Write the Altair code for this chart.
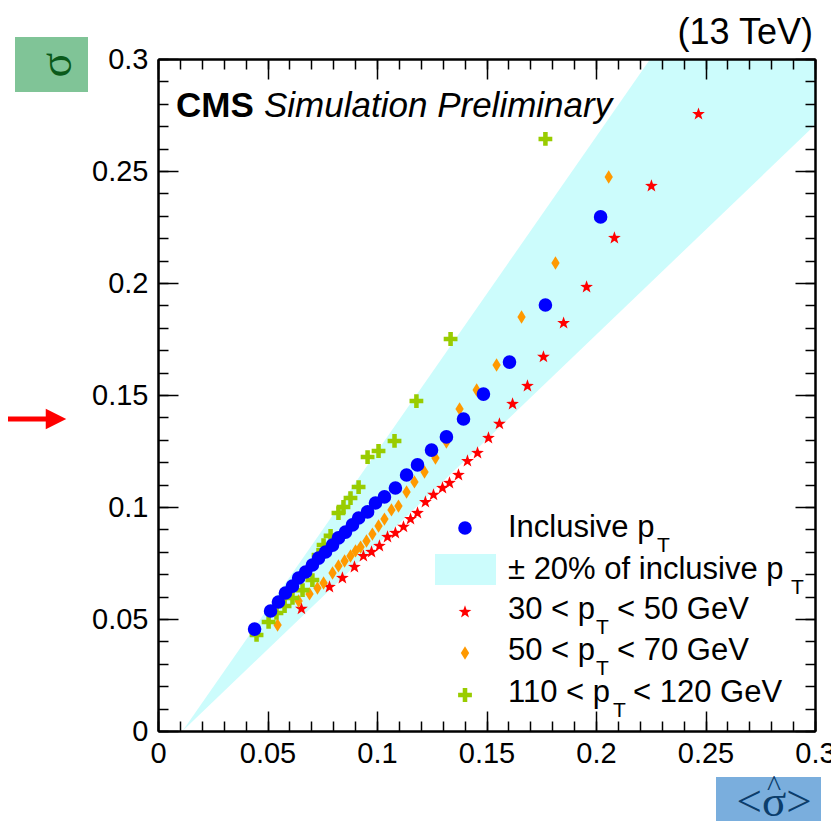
import math
import altair as alt
import pandas as pd

# ---------------- data ----------------
inc_x = [0.0441, 0.0514, 0.0550, 0.0582, 0.0614, 0.0642, 0.0674, 0.0705, 0.0733, 0.0765,
         0.0797, 0.0824, 0.0856, 0.0888, 0.0916, 0.0957, 0.0993, 0.1034, 0.1084, 0.1135,
         0.1185, 0.1249, 0.1317, 0.1395, 0.1486, 0.1605, 0.1769, 0.2021]
inc_y = [0.0455, 0.0536, 0.0576, 0.0616, 0.0647, 0.0683, 0.0710, 0.0741, 0.0772, 0.0799,
         0.0830, 0.0862, 0.0888, 0.0920, 0.0951, 0.0978, 0.1018, 0.1045, 0.1085, 0.1143,
         0.1188, 0.1254, 0.1313, 0.1393, 0.1504, 0.1647, 0.1902, 0.2295]

pt30_x = [0.0655, 0.0783, 0.0842, 0.0897, 0.0938, 0.0975, 0.1011, 0.1048, 0.1084, 0.1121,
          0.1153, 0.1185, 0.1221, 0.1258, 0.1299, 0.1331, 0.1372, 0.1413, 0.1459, 0.1509,
          0.1559, 0.1619, 0.1687, 0.1760, 0.1852, 0.1957, 0.2084, 0.2253, 0.2468]
pt30_y = [0.0545, 0.0643, 0.0683, 0.0732, 0.0781, 0.0799, 0.0826, 0.0866, 0.0884, 0.0911,
          0.0946, 0.0973, 0.1022, 0.1054, 0.1085, 0.1107, 0.1143, 0.1205, 0.1241, 0.1308,
          0.1371, 0.1460, 0.1540, 0.1670, 0.1821, 0.1982, 0.2201, 0.2433, 0.2754]

pt50_x = [0.0546, 0.0642, 0.0692, 0.0728, 0.0756, 0.0797, 0.0824, 0.0852, 0.0879, 0.0902,
          0.0925, 0.0952, 0.0979, 0.1007, 0.1034, 0.1066, 0.1098, 0.1135, 0.1171, 0.1217,
          0.1267, 0.1317, 0.1377, 0.1455, 0.1546, 0.1660, 0.1815, 0.2058]
pt50_y = [0.0473, 0.0580, 0.0612, 0.0638, 0.0661, 0.0705, 0.0737, 0.0759, 0.0781, 0.0804,
          0.0821, 0.0848, 0.0879, 0.0915, 0.0946, 0.0987, 0.1004, 0.1067, 0.1112, 0.1156,
          0.1219, 0.1290, 0.1438, 0.1522, 0.1634, 0.1848, 0.2089, 0.2473]

pt110_x = [0.0450, 0.0505, 0.0541, 0.0578, 0.0614, 0.0660, 0.0705, 0.0733, 0.0756, 0.0788,
           0.0824, 0.0847, 0.0879, 0.0916, 0.0957, 0.1007, 0.1080, 0.1180, 0.1336, 0.1769]
pt110_y = [0.0429, 0.0487, 0.0527, 0.0558, 0.0594, 0.0629, 0.0674, 0.0786, 0.0830, 0.0871,
           0.0973, 0.1000, 0.1040, 0.1089, 0.1223, 0.1250, 0.1295, 0.1473, 0.1750, 0.2643]

# +-20% band around the inclusive trend
band_x = [0.0112, 0.3]
band_lo = [0.0, 0.2705]
band_hi = [0.0, 0.4057]

major_ticks = [0, 0.05, 0.1, 0.15, 0.2, 0.25, 0.3]
minor_ticks = [round(i * 0.01, 2) for i in range(31)]

# ---------------- styling ----------------
FONT = "Liberation Sans, Arial, Helvetica, sans-serif"
SERIF = "Liberation Serif, Times New Roman, serif"
CYAN = "#ccfcfc"
W, H = 657, 672

xs = alt.Scale(domain=[0, 0.3], nice=False, zero=False)
ys = alt.Scale(domain=[0, 0.3], nice=False, zero=False)

one = pd.DataFrame({"k": [0]})


def star_path():
    pts = []
    for k in range(10):
        a = math.radians(-90 + 36 * k)
        r = 1.0 if k % 2 == 0 else 0.40
        pts.append(f"{r * math.cos(a):.3f},{r * math.sin(a):.3f}")
    return "M" + "L".join(pts) + "Z"


STAR = star_path()
DIAMOND = "M0,-1L0.62,0L0,1L-0.62,0Z"
CROSS = ("M-0.33,-1L0.33,-1L0.33,-0.33L1,-0.33L1,0.33L0.33,0.33L0.33,1L-0.33,1"
         "L-0.33,0.33L-1,0.33L-1,-0.33L-0.33,-0.33Z")

band_df = pd.DataFrame({"x": band_x, "lo": band_lo, "hi": band_hi})

# band layer carries the label axes
band = alt.Chart(band_df).mark_area(color=CYAN, opacity=1, clip=True).encode(
    x=alt.X("x:Q", scale=xs, title=None,
            axis=alt.Axis(orient="bottom", values=major_ticks, format="~g", ticks=False,
                          tickSize=0, domain=False, grid=False, labelFont=FONT,
                          labelFontSize=29, labelColor="black", labelPadding=8,
                          labelFlush=False, labelOverlap=False)),
    y=alt.Y("lo:Q", scale=ys, title=None,
            axis=alt.Axis(orient="left", values=major_ticks, format="~g", ticks=False,
                          tickSize=0, domain=False, grid=False, labelFont=FONT,
                          labelFontSize=29, labelColor="black", labelPadding=10,
                          labelFlush=False, labelOverlap=False)),
    y2="hi:Q",
)


def tick_layer(xorient, yorient, values, size):
    common = dict(values=values, tickSize=size, labels=False, domain=True,
                  domainColor="black", domainWidth=2, tickColor="black", tickWidth=1.5,
                  grid=False, zindex=1)
    return alt.Chart(band_df).mark_point(opacity=0).encode(
        x=alt.X("x:Q", scale=xs, title=None,
                axis=alt.Axis(orient=xorient, offset=-H, **common)),
        y=alt.Y("lo:Q", scale=ys, title=None,
                axis=alt.Axis(orient=yorient, offset=-W, **common)),
    )


ticks = [
    tick_layer("top", "right", major_ticks, 20),
    tick_layer("top", "right", minor_ticks, 10),
    tick_layer("bottom", "left", major_ticks, 20),
    tick_layer("bottom", "left", minor_ticks, 10),
]


def series(xv, yv, shape, size, color):
    df = pd.DataFrame({"x": xv, "y": yv})
    return alt.Chart(df).mark_point(shape=shape, size=size, filled=True, opacity=1,
                                    color=color, strokeWidth=0).encode(
        x=alt.X("x:Q", scale=xs, axis=None),
        y=alt.Y("y:Q", scale=ys, axis=None),
    )


s30 = series(pt30_x, pt30_y, STAR, 180, "#ff0000")
s50 = series(pt50_x, pt50_y, DIAMOND, 180, "#ff9900")
s110 = series(pt110_x, pt110_y, CROSS, 190, "#99cc00")
sinc = series(inc_x, inc_y, "circle", 185, "#0000ff")


def text(t, x, y, size, **kw):
    return alt.Chart(one).mark_text(text=t, align=kw.pop("align", "left"),
                                    baseline=kw.pop("baseline", "alphabetic"),
                                    fontSize=size, font=kw.pop("font", FONT),
                                    color=kw.pop("color", "black"), **kw).encode(
        x=alt.value(x), y=alt.value(y))


def sym(shape, size, color, x, y):
    return alt.Chart(one).mark_point(shape=shape, size=size, filled=True, opacity=1,
                                     color=color, strokeWidth=0).encode(
        x=alt.value(x), y=alt.value(y))


LS = 31
SUB = 21
legend = [
    sym("circle", 185, "#0000ff", 307, 469),
    text("Inclusive p", 350, 478, LS),
    text("T", 499, 493, SUB),
    alt.Chart(one).mark_rect(color=CYAN).encode(
        x=alt.value(277), x2=alt.value(338), y=alt.value(495), y2=alt.value(526)),
    text("\u00b1 20% of inclusive p", 350, 520, LS),
    text("T", 633, 535, SUB),
    sym(STAR, 180, "#ff0000", 307, 553),
    text("30 < p", 350, 560, LS),
    text("T", 438, 575, SUB),
    text("< 50 GeV", 459, 560, LS),
    sym(DIAMOND, 180, "#ff9900", 307, 594),
    text("50 < p", 350, 601, LS),
    text("T", 438, 616, SUB),
    text("< 70 GeV", 459, 601, LS),
    sym(CROSS, 190, "#99cc00", 307, 636),
    text("110 < p", 350, 643, LS),
    text("T", 455, 658, SUB),
    text("< 120 GeV", 475, 643, LS),
]

annot = [
    text("(13 TeV)", 655, -15, 36, align="right"),
    text("CMS", 18, 58, 35, fontWeight="bold"),
    text("Simulation Preliminary", 106, 58, 35, fontStyle="italic"),
    # green box with rotated sigma
    alt.Chart(one).mark_rect(color="#80c497").encode(
        x=alt.value(-143), x2=alt.value(-70), y=alt.value(-22), y2=alt.value(33)),
    text("\u03c3", -101, 6, 46, align="center", baseline="middle", angle=270,
         color="#0a5a1a", font=SERIF),
    # blue box with <sigma-hat>
    alt.Chart(one).mark_rect(color="#7aaedd").encode(
        x=alt.value(558), x2=alt.value(663), y=alt.value(718), y2=alt.value(772)),
    text("<\u03c3>", 616, 757, 45, align="center", color="#0b3d6b", font=SERIF),
    text("^", 616, 737, 30, align="center", color="#0b3d6b", font=SERIF),
    # red arrow
    alt.Chart(one).mark_rule(color="#ff0000", strokeWidth=5).encode(
        x=alt.value(-160), x2=alt.value(-112), y=alt.value(360)),
    alt.Chart(one).mark_point(shape="M-1,-1L1,0L-1,1Z", size=420, filled=True,
                              opacity=1, color="#ff0000", strokeWidth=0).encode(
        x=alt.value(-102), y=alt.value(360)),
]

chart = alt.layer(band, *ticks, s30, s50, s110, sinc, *legend, *annot).resolve_axis(
    x="independent", y="independent"
).properties(
    width=W, height=H,
    autosize=alt.AutoSizeParams(type="none"),
    padding={"left": 150, "top": 51, "right": 16, "bottom": 90},
    background="white",
).configure_view(stroke=None)

chart.save("out.html", embed_options={"renderer": "svg", "actions": False})
